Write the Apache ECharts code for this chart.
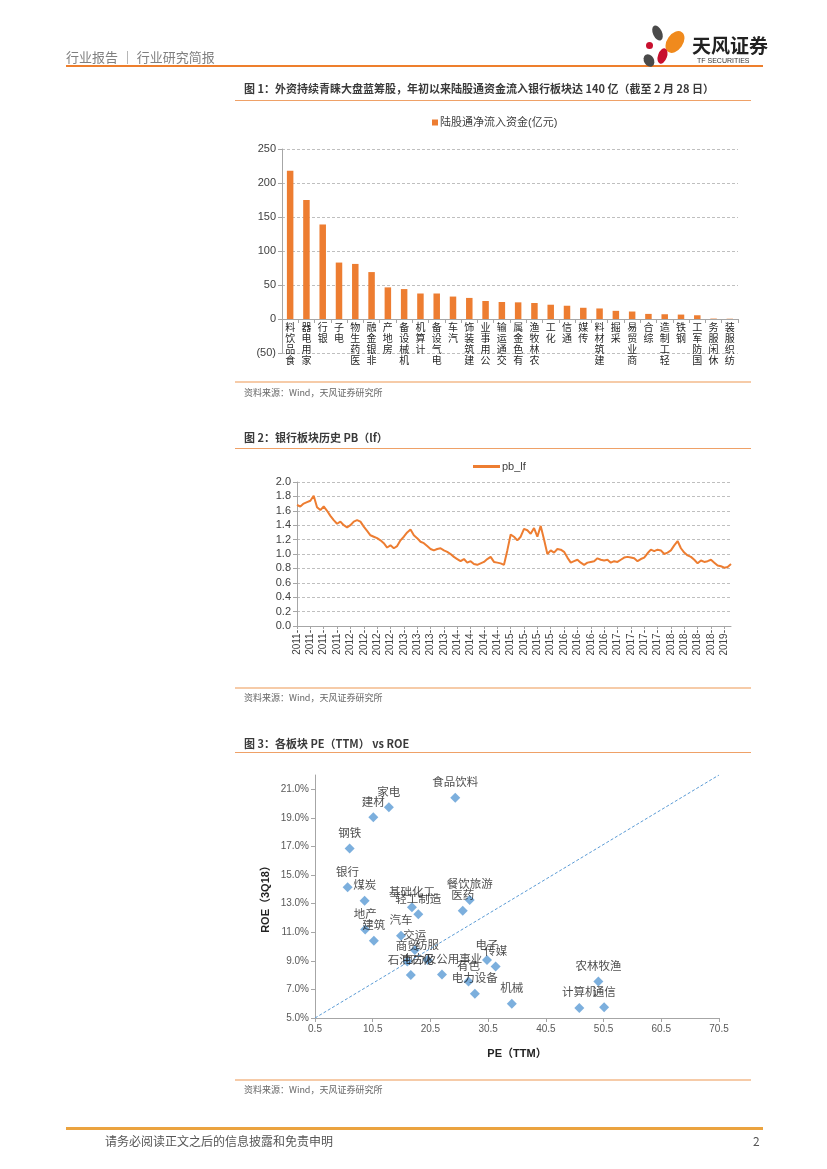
<!DOCTYPE html>
<html><head><meta charset="utf-8">
<script src="https://cdn.jsdelivr.net/npm/echarts@6/dist/echarts.min.js"></script>
<style>
body{margin:0;background:#fff;}
#page{position:relative;width:827px;height:1169px;overflow:hidden;font-family:"Noto Sans CJK SC","Liberation Sans",sans-serif;background:#fff;}
#chart{position:absolute;left:0;top:0;width:827px;height:1169px;}
.t{position:absolute;white-space:nowrap;}
.ln{position:absolute;}
.p{position:absolute;border-radius:50%;}
</style></head><body>
<div id="page">
<div id="chart"></div>
<!-- header -->
<div class="t" style="left:66px;top:49px;font-size:13px;line-height:16px;color:#7f7f7f;">行业报告 ｜ 行业研究简报</div>
<div class="ln" style="left:66px;top:65px;width:697px;height:2px;background:#EE7F2D;"></div>
<!-- logo -->
<div class="p" style="left:653px;top:25px;width:9px;height:16px;background:#4a4a4a;transform:rotate(-25deg);"></div>
<div class="p" style="left:667px;top:30px;width:16px;height:24px;background:#F08A1D;transform:rotate(35deg);"></div>
<div class="p" style="left:646px;top:42px;width:7px;height:7px;background:#C8102E;"></div>
<div class="p" style="left:658px;top:48px;width:9px;height:16px;background:#C8102E;transform:rotate(20deg);"></div>
<div class="p" style="left:644px;top:54px;width:10px;height:13px;background:#4a4a4a;transform:rotate(-30deg);"></div>
<div class="t" style="left:692px;top:33px;font-size:19px;line-height:24px;font-weight:bold;color:#222;">天风证券</div>
<div class="t" style="left:697px;top:56px;font-size:7px;line-height:9px;color:#333;font-family:'Liberation Sans',sans-serif;">TF SECURITIES</div>
<!-- chart 1 texts -->
<div class="t" style="left:244px;top:81px;font-size:11px;line-height:14px;font-weight:bold;color:#3a3a3a;">图 1：外资持续青睐大盘蓝筹股，年初以来陆股通资金流入银行板块达 140 亿（截至 2 月 28 日）</div>
<div class="ln" style="left:235px;top:100px;width:516px;height:1px;background:#EFA167;"></div>
<div class="ln" style="left:235px;top:381px;width:516px;height:1.5px;background:#F6CBA8;"></div>
<div class="t" style="left:244px;top:387px;font-size:9px;line-height:12px;color:#666;">资料来源：Wind，天风证券研究所</div>
<!-- chart 2 texts -->
<div class="t" style="left:244px;top:430px;font-size:11px;line-height:14px;font-weight:bold;color:#3a3a3a;">图 2：银行板块历史 PB（lf）</div>
<div class="ln" style="left:235px;top:448px;width:516px;height:1px;background:#EFA167;"></div>
<div class="ln" style="left:235px;top:687px;width:516px;height:1.5px;background:#F6CBA8;"></div>
<div class="t" style="left:244px;top:692px;font-size:9px;line-height:12px;color:#666;">资料来源：Wind，天风证券研究所</div>
<!-- chart 3 texts -->
<div class="t" style="left:244px;top:736px;font-size:11px;line-height:14px;font-weight:bold;color:#3a3a3a;">图 3：各板块 PE（TTM） vs ROE</div>
<div class="ln" style="left:235px;top:752px;width:516px;height:1px;background:#EFA167;"></div>
<div class="ln" style="left:235px;top:1079px;width:516px;height:1.5px;background:#F6CBA8;"></div>
<div class="t" style="left:244px;top:1084px;font-size:9px;line-height:12px;color:#666;">资料来源：Wind，天风证券研究所</div>
<!-- footer -->
<div class="ln" style="left:66px;top:1127px;width:697px;height:3px;background:#EBA33F;"></div>
<div class="t" style="left:105px;top:1133px;font-size:12px;line-height:16px;color:#555;">请务必阅读正文之后的信息披露和免责申明</div>
<div class="t" style="left:753px;top:1133px;font-size:12px;line-height:16px;color:#555;">2</div>
</div>
<script>
// ---------- Chart 1 data ----------
const barCategories = ['食品饮料','家用电器','银行','电子','医药生物','非银金融','房地产','机械设备','计算机','电气设备','汽车','建筑装饰','公用事业','交通运输','有色金属','农林牧渔','化工','通信','传媒','建筑材料','采掘','商业贸易','综合','轻工制造','钢铁','国防军工','休闲服务','纺织服装'];
const barValues = [218,175,139,83,81,69,46.5,44,37.5,37.5,33,31,26.5,25,24.5,23.5,21,19.5,16.5,15.5,12,11,7.5,7,6.5,5.5,0.6,0.4];

// ---------- Chart 2 data ----------
const pbTickLabels = ['2011-','2011-','2011-','2011-','2012-','2012-','2012-','2012-','2013-','2013-','2013-','2013-','2014-','2014-','2014-','2014-','2015-','2015-','2015-','2015-','2016-','2016-','2016-','2016-','2017-','2017-','2017-','2017-','2018-','2018-','2018-','2018-','2019-'];
const pbValues = [1.68,1.66,1.70,1.72,1.74,1.81,1.65,1.61,1.66,1.60,
1.53,1.47,1.42,1.45,1.40,1.37,1.40,1.45,1.47,1.45,
1.38,1.32,1.26,1.24,1.22,1.19,1.15,1.09,1.12,1.08,
1.11,1.19,1.24,1.30,1.34,1.26,1.22,1.17,1.15,1.11,
1.07,1.05,1.07,1.08,1.05,1.03,1.00,0.96,0.93,0.90,
0.93,0.88,0.90,0.86,0.85,0.87,0.89,0.93,0.96,0.89,
0.88,0.87,0.85,1.05,1.27,1.24,1.19,1.24,1.35,1.33,
1.28,1.36,1.24,1.39,1.20,1.00,1.05,1.02,1.07,1.06,
1.03,0.95,0.88,0.90,0.92,0.88,0.85,0.88,0.89,0.90,
0.94,0.92,0.91,0.92,0.88,0.90,0.89,0.92,0.95,0.96,
0.95,0.94,0.90,0.93,0.95,1.01,1.06,1.04,1.06,1.05,
1.00,1.02,1.05,1.12,1.18,1.08,1.02,0.98,0.96,0.92,
0.87,0.91,0.89,0.90,0.92,0.88,0.84,0.83,0.81,0.82,0.86];

// ---------- Chart 3 data ----------
const sectorNames = ['食品饮料','家电','建材','钢铁','银行','煤炭','地产','建筑','基础化工','轻工制造','汽车','交运','商贸','纺服','石油石化','电力及公用事业','医药','餐饮旅游','有色','电力设备','电子','传媒','机械','计算机','农林牧渔','通信'];
const sectorPE  = [24.8,13.3,10.6,6.5,6.15,9.1,9.2,10.7,17.3,18.4,15.4,17.8,16.5,20.0,17.1,22.5,26.1,27.3,27.1,28.2,30.3,31.8,34.6,46.3,49.6,50.6];
const sectorROE = [20.4,19.75,19.05,16.85,14.15,13.2,11.2,10.4,12.75,12.25,10.75,9.75,8.95,9.05,8.0,8.05,12.5,13.25,7.55,6.7,9.05,8.6,6.0,5.7,7.55,5.75];
const diagLine = [[0.5,5],[70.5,22]];

const FF = '"Liberation Sans","Noto Sans CJK SC",sans-serif';
const AX = '#A6A6A6';
const chart = echarts.init(document.getElementById('chart'), null, {renderer:'canvas'});
const pbIdx = pbValues.map((v,i)=>String(i));

const option = {
  animation:false,
  textStyle:{fontFamily:FF},
  legend:[
    {data:['陆股通净流入资金(亿元)'], left:432, top:117, icon:'rect', itemWidth:6, itemHeight:6, itemGap:0, padding:0,
     textStyle:{fontSize:11,color:'#404040',fontFamily:FF,padding:[0,0,0,-3]}},
    {data:['pb_lf'], left:473, top:461, icon:'rect', itemWidth:27, itemHeight:3, padding:0,
     textStyle:{fontSize:11,color:'#404040',fontFamily:FF,padding:[0,0,0,-3]}}
  ],
  grid:[
    {left:282,right:89,top:149,bottom:816},
    {left:297,right:96,top:482,bottom:543},
    {left:315,right:108,top:775,bottom:151}
  ],
  xAxis:[
    {type:'category', gridIndex:0, data:barCategories, offset:-34,
     axisLine:{onZero:false,lineStyle:{color:AX}}, axisTick:{show:true,length:4,lineStyle:{color:AX}},
     axisLabel:{interval:0, margin:4, fontSize:10, lineHeight:11, color:'#262626', fontFamily:FF,
       formatter:v=>v.split('').reverse().join('\n')}},
    {type:'category', gridIndex:1, data:pbIdx, boundaryGap:false,
     axisLine:{lineStyle:{color:AX}}, axisTick:{show:true,interval:3,length:3,lineStyle:{color:AX}},
     axisLabel:{interval:3, rotate:90, margin:4, fontSize:10, color:'#404040', fontFamily:FF,
       formatter:(v,i)=>pbTickLabels[Math.round(i/4)]}},
    {type:'value', gridIndex:2, min:0.5, max:70.5, interval:10,
     splitLine:{show:false}, axisLine:{show:true,lineStyle:{color:AX}}, axisTick:{show:true,length:4,lineStyle:{color:AX}},
     axisLabel:{margin:6, fontSize:10, color:'#595959', fontFamily:FF, formatter:v=>v.toFixed(1)},
     name:'PE（TTM）', nameLocation:'middle', nameGap:30,
     nameTextStyle:{fontWeight:'bold',fontSize:11,color:'#222',fontFamily:FF}}
  ],
  yAxis:[
    {type:'value', gridIndex:0, min:-50, max:250, interval:50,
     axisLine:{show:true,lineStyle:{color:AX}}, axisTick:{show:true,length:4,lineStyle:{color:AX}},
     splitLine:{lineStyle:{color:'#BFBFBF',type:[3,2]}},
     axisLabel:{margin:6, fontSize:11, color:'#404040', fontFamily:FF, formatter:v=>v<0?'('+(-v)+')':String(v)}},
    {type:'value', gridIndex:1, min:0, max:2, interval:0.2,
     axisLine:{show:true,lineStyle:{color:AX}}, axisTick:{show:true,length:4,lineStyle:{color:AX}},
     splitLine:{lineStyle:{color:'#BFBFBF',type:[3,2]}},
     axisLabel:{margin:6, fontSize:11, color:'#404040', fontFamily:FF, formatter:v=>v.toFixed(1)}},
    {type:'value', gridIndex:2, min:5, max:22, interval:2,
     axisLine:{show:true,lineStyle:{color:AX}}, axisTick:{show:true,length:4,lineStyle:{color:AX}},
     splitLine:{show:false},
     axisLabel:{margin:6, fontSize:10, color:'#595959', fontFamily:FF, showMaxLabel:false, formatter:v=>v.toFixed(1)+'%'},
     name:'ROE（3Q18）', nameLocation:'middle', nameGap:44,
     nameTextStyle:{fontWeight:'bold',fontSize:11,color:'#222',fontFamily:FF}}
  ],
  series:[
    {name:'陆股通净流入资金(亿元)', type:'bar', xAxisIndex:0, yAxisIndex:0, data:barValues,
     barWidth:6.5, itemStyle:{color:'#ED7D31'}},
    {name:'pb_lf', type:'line', xAxisIndex:1, yAxisIndex:1, data:pbValues, showSymbol:false, symbol:'none',
     lineStyle:{color:'#ED7D31',width:2}, itemStyle:{color:'#ED7D31'}},
    {name:'diag', type:'line', xAxisIndex:2, yAxisIndex:2, data:diagLine, symbol:'none', silent:true,
     lineStyle:{color:'#5B9BD5',width:1,type:[3,2]}},
    {name:'sectors', type:'scatter', xAxisIndex:2, yAxisIndex:2, symbol:'diamond', symbolSize:10,
     itemStyle:{color:'#5B9BD5'},
     data:sectorPE.map((x,i)=>({name:sectorNames[i], value:[x, sectorROE[i]]})),
     label:{show:true, position:'top', distance:4, formatter:p=>p.name, fontSize:11.5, color:'#222', fontFamily:FF}}
  ]
};
chart.setOption(option);
</script>
</body></html>
